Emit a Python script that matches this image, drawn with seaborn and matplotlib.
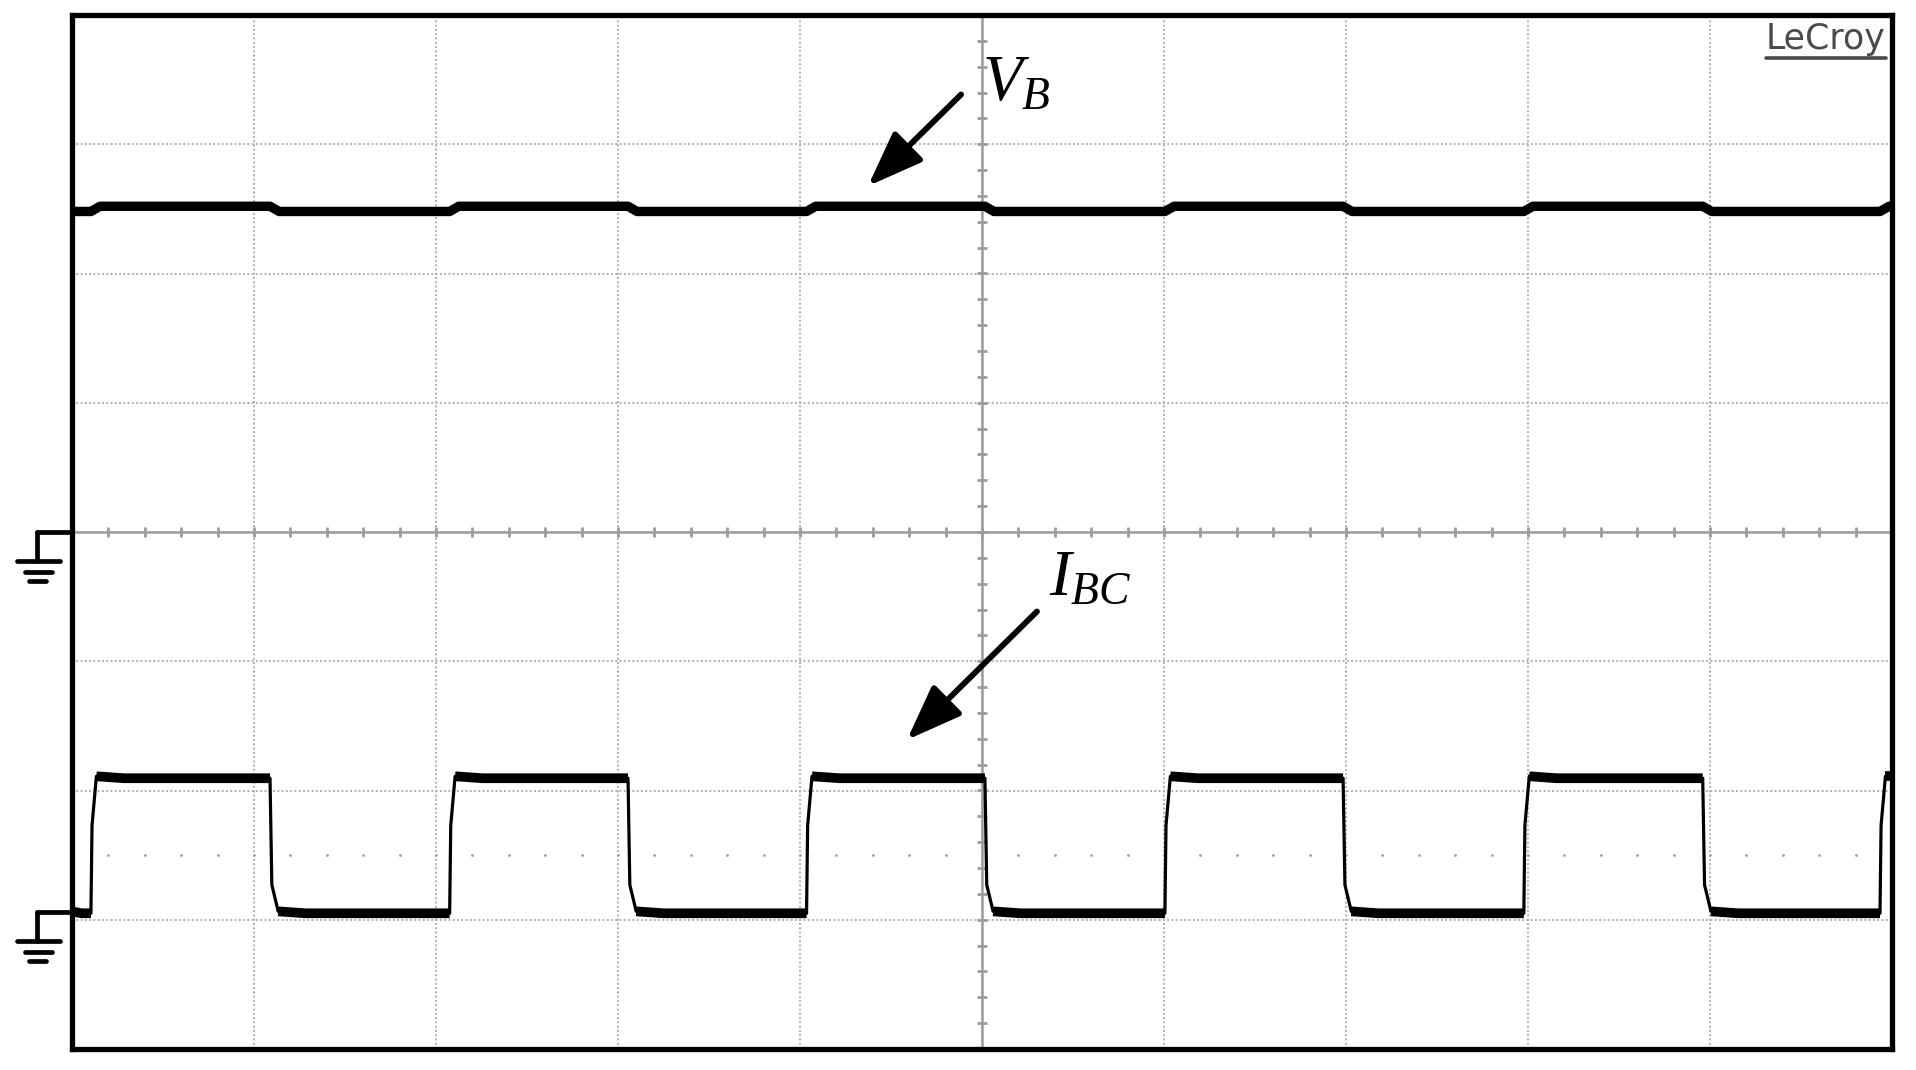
import numpy as np
import pandas as pd
import seaborn as sns
import matplotlib.pyplot as plt
from matplotlib.patches import ArrowStyle

# values in scope divisions (10 x 8 graticule)
rise_t = [0.104, 2.075, 4.036, 6.005, 7.977, 9.934]
fall_t = [1.088, 3.055, 5.016, 6.984, 8.960]

ibc_high_start = -1.89
ibc_high = -1.905
ibc_low_start = -2.935
ibc_low = -2.95
ibc_mid_rise = -2.27
ibc_mid_fall = -2.73

vb_high = 2.52
vb_low = 2.48

ground_levels = [0.0, -2.94]
T_END = 10.0


def build_ibc():
    events = sorted([(t, "r") for t in rise_t] + [(t, "f") for t in fall_t])
    pts = [(0.0, ibc_low_start)]
    plateaus = []
    start, level0, level1 = 0.0, ibc_low_start, ibc_low
    for t, kind in events:
        if kind == "r":
            plateaus.append((start, t, level0, level1))
            pts += [(t, ibc_low), (t + 0.006, ibc_mid_rise), (t + 0.03, ibc_high_start)]
            start, level0, level1 = t + 0.03, ibc_high_start, ibc_high
        else:
            plateaus.append((start, t, level0, level1))
            pts += [(t, ibc_high), (t + 0.01, ibc_mid_fall), (t + 0.045, ibc_low_start)]
            start, level0, level1 = t + 0.045, ibc_low_start, ibc_low
    pts.append((T_END, level0))
    plateaus.append((start, T_END, level0, level0))
    path = pd.DataFrame(pts, columns=["t", "i"])
    rows = []
    for k, (a, b, y0, y1) in enumerate(plateaus):
        rows += [(k, a, y0), (k, a + min(0.15, (b - a) / 2), y1), (k, b, y1)]
    band = pd.DataFrame(rows, columns=["seg", "t", "i"])
    return path, band


def build_vb():
    events = sorted([(t, "r") for t in rise_t] + [(t, "f") for t in fall_t])
    pts = [(0.0, vb_low)]
    for t, kind in events:
        if kind == "r":
            pts += [(t, vb_low), (min(t + 0.05, T_END), vb_high)]
        else:
            pts += [(t, vb_high), (t + 0.05, vb_low)]
    pts.append((T_END, pts[-1][1]))
    return pd.DataFrame(pts, columns=["t", "v"])


ibc_path, ibc_band = build_ibc()
vb = build_vb()

sns.set_style("white")
plt.rcParams["mathtext.fontset"] = "custom"
plt.rcParams["mathtext.it"] = "Liberation Serif:italic"
plt.rcParams["mathtext.rm"] = "Liberation Serif"

fig = plt.figure(figsize=(19.16, 10.70), dpi=100)
ax = fig.add_axes([72 / 1916, 1 - 1049 / 1070, 1820 / 1916, 1034 / 1070])
ax.set_xlim(0, 10)
ax.set_ylim(-3.954, 4.0)

# graticule
ax.set_xticks(range(0, 11))
ax.set_yticks(range(-4, 5))
ax.grid(True, color="#b0b0b0", linestyle=(0, (1.0, 1.2)), lw=1.4)
ax.tick_params(length=0, labelleft=False, labelbottom=False)
grat = "#9c9c9c"
ax.axhline(0, color=grat, lw=1.8, zorder=1)
ax.axvline(5, color=grat, lw=1.8, zorder=1)
sub = np.arange(0.2, 10, 0.2)
ax.vlines(sub, -0.04, 0.04, color=grat, lw=2.0, zorder=1)
suby = np.arange(-3.8, 4, 0.2)
ax.hlines(suby, 5 - 0.03, 5 + 0.03, color=grat, lw=2.0, zorder=1)
ax.scatter(sub, np.full_like(sub, -2.5), s=4, color="#a0a0a0", zorder=1, linewidths=0)

for s in ax.spines.values():
    s.set_color("black")
    s.set_linewidth(3.8)

# traces
sns.lineplot(data=vb, x="t", y="v", ax=ax, color="black", lw=6.8,
             estimator=None, sort=False, zorder=3)
sns.lineplot(data=ibc_path, x="t", y="i", ax=ax, color="black", lw=2.3,
             estimator=None, sort=False, zorder=3)
sns.lineplot(data=ibc_band, x="t", y="i", units="seg", ax=ax, color="black",
             lw=7.0, estimator=None, sort=False, zorder=3,
             solid_capstyle="butt")
ax.set_xlabel("")
ax.set_ylabel("")

# ground markers on the left edge
for g in ground_levels:
    kw = dict(color="black", lw=3.4, clip_on=False, zorder=5)
    ax.plot([-0.192, 0.0], [g, g], **kw)
    ax.plot([-0.192, -0.192], [g, g - 0.223], **kw)
    ax.plot([-0.302, -0.066], [g - 0.223, g - 0.223], solid_capstyle="round", **kw)
    ax.plot([-0.258, -0.110], [g - 0.308, g - 0.308], solid_capstyle="round", **kw)
    ax.plot([-0.236, -0.143], [g - 0.377, g - 0.377], solid_capstyle="round", **kw)

# labels and arrows
head = ArrowStyle("-|>", head_length=0.85, head_width=0.32)
ax.annotate("", xy=(4.374, 2.677), xytext=(4.885, 3.385),
            arrowprops=dict(arrowstyle=head, color="black", lw=4.2,
                            mutation_scale=40, shrinkA=0, shrinkB=0), zorder=6)
ax.annotate("", xy=(4.588, -1.608), xytext=(5.302, -0.615),
            arrowprops=dict(arrowstyle=head, color="black", lw=4.2,
                            mutation_scale=40, shrinkA=0, shrinkB=0), zorder=6)
ax.text(5.0, 3.346, r"$V_B$", fontsize=47, color="black",
        ha="left", va="baseline", zorder=6)
ax.text(5.37, -0.485, r"$I_{BC}$", fontsize=47, color="black",
        ha="left", va="baseline", zorder=6)

ax.text(0.9967, 0.967, "LeCroy", transform=ax.transAxes, ha="right",
        va="baseline", fontsize=25, color="#4a4a4a", family="DejaVu Sans")
ax.plot([0.931, 0.9967], [0.958, 0.958], transform=ax.transAxes,
        color="#4a4a4a", lw=2.6)

fig.savefig("out.png", dpi=100, facecolor="white")
